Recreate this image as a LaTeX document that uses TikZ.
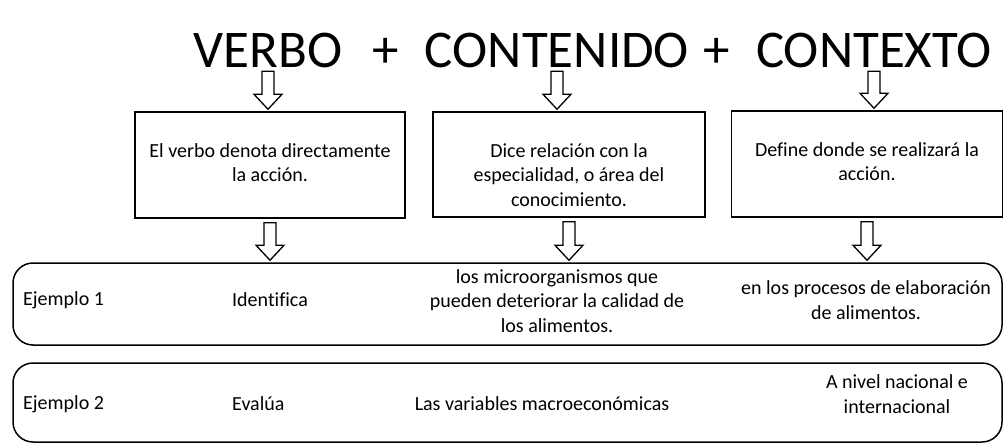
\documentclass[tikz,border=0pt]{standalone}
\usepackage{fontspec}
\setmainfont[Ligatures=NoCommon]{Carlito}
\usetikzlibrary{positioning, calc}

\begin{document}
\begin{tikzpicture}[
  x=1pt, y=-1pt,
  font=\fontsize{20}{24.5}\selectfont,
  titulo/.style={inner sep=0pt, text depth=0pt, anchor=base, font=\fontsize{53}{60}\selectfont},
  caja/.style={draw, line width=1.5pt, minimum width=270pt, minimum height=106pt, inner sep=0pt},
  fila/.style={draw, line width=1.5pt, rounded corners=20pt, minimum width=989pt, inner sep=0pt},
  txt/.style={inner sep=0pt, align=center},
  hueca/.style={draw, line width=1.3pt, to path={let \p1=(\tikztostart), \p2=(\tikztotarget) in
    (\x1-6pt,\y1-4pt) -- (\x1+6pt,\y1-4pt) -- (\x1+6pt,\y2+17pt) -- (\x1+14pt,\y2+17pt)
    -- (\x1,\y2+2pt) -- (\x1-14pt,\y2+17pt) -- (\x1-6pt,\y2+17pt) -- cycle}}
]
\useasboundingbox (0,0) rectangle (1004,444);
\node[titulo] (verbo) at (268,67) {VERBO};
\node[titulo] (mas1) at (386,67) {+};
\node[titulo] (contenido) at (557,67) {CONTENIDO};
\node[titulo] (mas2) at (717,67) {+};
\node[titulo] (contexto) at (874,67) {CONTEXTO};
\node[caja] (def1) at (270,165) {};
\node[caja, minimum width=272pt, minimum height=105pt] (def2) at (569,164.5) {};
\node[caja, minimum width=271pt] (def3) at (867,164) {};
\node[txt, below=32pt of def1.north] (tdef1) {El verbo denota directamente\\la acción.};
\node[txt, below=32pt of def2.north] (tdef2) {Dice relación con la\\especialidad, o área del\\conocimiento.};
\node[txt, below=32pt of def3.north] (tdef3) {Define donde se realizará la\\acción.};
\node[fila, minimum height=82pt] (ej1) at (507.5,304) {};
\node[fila, minimum height=79pt] (ej2) at (507.5,402.5) {};
\node[txt, anchor=west] (nom1) at (23,300) {Ejemplo 1};
\node[txt, anchor=west] (verb1) at (232,300) {Identifica};
\node[txt] (cont1) at (557,301) {los microorganismos que\\pueden deteriorar la calidad de\\los alimentos.};
\node[txt] (ctx1) at (866,300) {en los procesos de elaboración\\de alimentos.};
\node[txt, anchor=west] (nom2) at (23,404) {Ejemplo 2};
\node[txt, anchor=west] (verb2) at (232,404) {Evalúa};
\node[txt] (cont2) at (542,404) {Las variables macroeconómicas};
\node[txt] (ctx2) at (897,394) {A nivel nacional e\\internacional};
\draw[hueca] (verbo.south) to (def1.north);
\draw[hueca] (contenido.south) to (def2.north);
\draw[hueca] (contexto.south) to (def3.north);
\draw[hueca] (def1.south) to (ej1.north);
\draw[hueca] (def2.south) to (ej1.north);
\draw[hueca] (def3.south) to (ej1.north);
\end{tikzpicture}
\end{document}
